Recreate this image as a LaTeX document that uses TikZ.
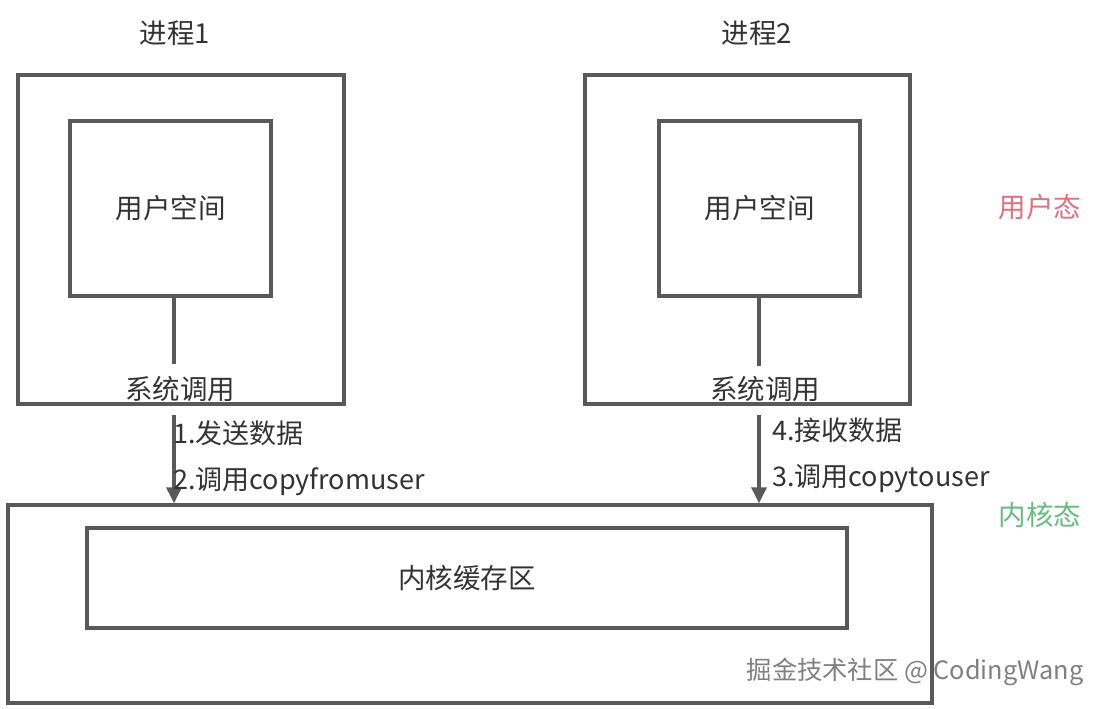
\documentclass[tikz,border=0pt]{standalone}
\usepackage{fontspec}
\setmainfont{Noto Sans CJK SC}
\usetikzlibrary{arrows.meta,positioning,calc}
\definecolor{BoxGray}{HTML}{595959}
\definecolor{TxtBlack}{HTML}{333333}
\definecolor{UserRed}{HTML}{E0707E}
\definecolor{KernGreen}{HTML}{66BB80}

\begin{document}
\begin{tikzpicture}[x=1pt,y=-1pt,
  font=\fontsize{27.5pt}{32pt}\selectfont,text=TxtBlack,
  b/.style={draw=BoxGray,line width=3.4pt,inner sep=0pt},
  lbl/.style={inner sep=1pt,anchor=west,font=\fontsize{27pt}{32pt}\selectfont},
  call/.style={draw=BoxGray,line width=3.4pt},
  arr/.style={call,-{Triangle[length=16pt,width=15pt]}}]
  \useasboundingbox (0,0) rectangle (1104,709);
  % processes
  \node[b,minimum width=326pt,minimum height=329pt] (p1out) at (181,239.5) {};
  \node[b,minimum width=201pt,minimum height=175pt] (p1in) at (170.5,208.5) {用户空间};
  \node[b,minimum width=325pt,minimum height=329pt] (p2out) at (747.5,239.5) {};
  \node[b,minimum width=201pt,minimum height=175pt] (p2in) at (759.5,208.5) {用户空间};
  \node (t1) at (175,33) {进程1};
  \node (t2) at (757,33) {进程2};
  % kernel
  \node[b,minimum width=924pt,minimum height=198pt] (kout) at (470,604) {};
  \node[b,minimum width=760pt,minimum height=100pt] (kin) at (467,578) {内核缓存区};
  % mode labels
  \node[text=UserRed] (umode) at (1040,207) {用户态};
  \node[text=KernGreen] (kmode) at (1040,515) {内核态};
  % system calls
  \node[inner sep=0pt] (sc1) at (180,389) {系统调用};
  \node[inner sep=0pt] (sc2) at (765,389) {系统调用};
  \coordinate (c1) at (174,364);
  \coordinate (d1) at (174,415);
  \coordinate (c2) at (759,366);
  \coordinate (d2) at (759,415);
  \draw[call] (p1in.south -| c1) -- (c1);
  \draw[arr] (d1) -- (d1 |- kout.north);
  \draw[call] (p2in.south -| c2) -- (c2);
  \draw[arr] (d2) -- (d2 |- kout.north);
  \node[lbl] (s1) at (172,433) {1.发送数据};
  \node[lbl] (s2) at (172,482) {2.调用copyfromuser};
  \node[lbl] (r4) at (771,430) {4.接收数据};
  \node[lbl] (r3) at (771,479) {3.调用copytouser};
  % watermark
  \node[text=gray,font=\fontsize{25.3pt}{30pt}\selectfont] (wm) at (915,672) {掘金技术社区 @ CodingWang};
\end{tikzpicture}
\end{document}
